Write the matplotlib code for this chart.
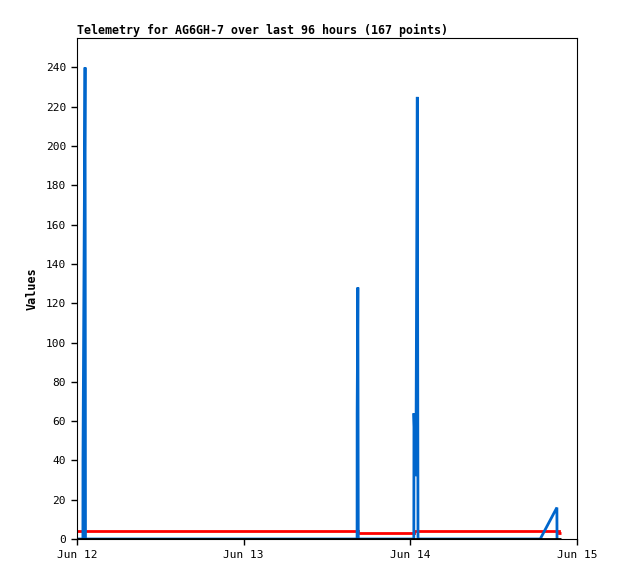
import matplotlib
matplotlib.use("Agg")
import matplotlib.pyplot as plt
import matplotlib.dates as mdates
import numpy as np
from datetime import datetime, timedelta

start = datetime(2024, 6, 12)

# blue series: hours since Jun 12 00:00, value
blue_h = [0.0, 0.85, 0.86, 1.02, 1.16, 1.22,
          40.33, 40.34, 40.44, 40.50,
          48.50, 48.52, 48.80, 49.00, 49.10,
          66.70, 67.30, 67.90, 68.50, 69.10, 69.12]
blue_v = [0, 0, 40, 145, 240, 0,
          0, 64, 128, 0,
          0, 64, 32, 225, 0,
          0, 4, 8, 12, 16, 0]

# red series
red_h = [0.0, 40.4, 40.4, 48.5, 48.5, 69.4, 69.4, 69.7]
red_v = [4, 4, 3, 3, 4, 4, 3, 3]

# black series
black_h = [0.0, 69.7]
black_v = [0, 0]

def to_dates(hours):
    return [start + timedelta(hours=h) for h in hours]

plt.rcParams['font.family'] = ['DejaVu Sans Mono']

fig = plt.figure(figsize=(6.18, 5.79), dpi=100)
ax = fig.add_axes([0.1246, 0.0691, 0.8091, 0.8653])

kw = dict(linewidth=2.0, solid_capstyle="butt", solid_joinstyle="miter")
ax.plot(to_dates(red_h), red_v, color="#ff0000", **kw)
ax.plot(to_dates(blue_h), blue_v, color="#0066cc", **kw)
ax.plot(to_dates(black_h), black_v, color="black", **kw)

ax.set_xlim(start, start + timedelta(days=3))
ax.set_ylim(0, 255)
ax.set_yticks(np.arange(0, 241, 20))
ax.xaxis.set_major_locator(mdates.DayLocator())
ax.xaxis.set_major_formatter(mdates.DateFormatter("%b %d"))

ax.tick_params(direction="out", length=4, width=1, labelsize=8, pad=4)
for s in ax.spines.values():
    s.set_linewidth(0.8)

ax.set_ylabel("Values", fontsize=8.5, fontweight="bold", labelpad=5)
ax.set_title("Telemetry for AG6GH-7 over last 96 hours (167 points)",
             loc="left", fontsize=8.4, fontweight="bold", pad=3)

fig.savefig("out.png", dpi=100)
plt.close()
